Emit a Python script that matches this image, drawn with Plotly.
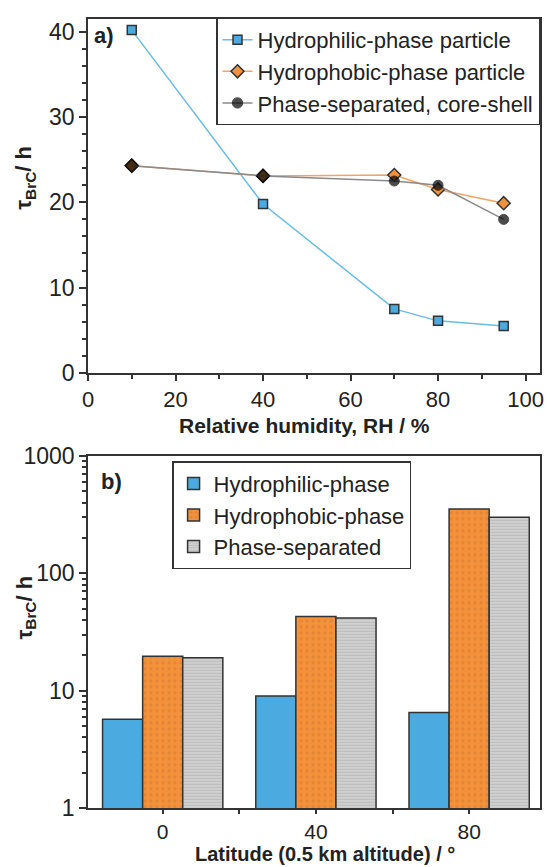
import plotly.graph_objects as go

# ---------------- data ----------------
# Panel a
rh_hydrophilic = [10, 40, 70, 80, 95]
tau_hydrophilic = [40.2, 19.8, 7.5, 6.1, 5.5]

rh_hydrophobic = [10, 40, 70, 80, 95]
tau_hydrophobic = [24.3, 23.1, 23.2, 21.5, 19.9]

# phase-separated listed from high RH to low RH (line is the same)
rh_phasesep = [95, 80, 70, 40, 10]
tau_phasesep = [18.0, 22.0, 22.5, 23.1, 24.3]

# Panel b
latitudes = [0, 40, 80]
bar_hydrophilic = [5.7, 9.0, 6.5]
bar_hydrophobic = [19.6, 42.8, 352]
bar_phasesep = [19.0, 41.5, 299]

legend_a = ["Hydrophilic-phase particle", "Hydrophobic-phase particle",
            "Phase-separated, core-shell"]
legend_b = ["Hydrophilic-phase", "Hydrophobic-phase", "Phase-separated"]

FONT = "Liberation Sans, Arial, sans-serif"
AX = "#333333"
BLUE = "#4BAAE0"
BLUE_LINE = "#69BCE8"
ORANGE = "#F4913A"
ORANGE_LINE = "#F5A262"
GREY_LINE = "#8A8A8A"

fig = go.Figure()

# ---- panel a ----
fig.add_trace(go.Scatter(
    x=rh_hydrophilic, y=tau_hydrophilic, mode="lines+markers",
    name=legend_a[0], legend="legend",
    line=dict(color=BLUE_LINE, width=1.5),
    marker=dict(symbol="square", size=9, color=BLUE,
                line=dict(color=AX, width=1.5)),
    xaxis="x", yaxis="y"))
fig.add_trace(go.Scatter(
    x=rh_hydrophobic, y=tau_hydrophobic, mode="lines+markers",
    name=legend_a[1], legend="legend",
    line=dict(color=ORANGE_LINE, width=1.5),
    marker=dict(symbol="diamond", size=10, color=ORANGE,
                line=dict(color=AX, width=1.5)),
    xaxis="x", yaxis="y"))
ps_symbols = ["circle", "circle", "circle", "diamond", "diamond"]
ps_sizes = [10, 10, 10, 11, 11]
fig.add_trace(go.Scatter(
    x=rh_phasesep, y=tau_phasesep, mode="lines+markers",
    name=legend_a[2], legend="legend",
    line=dict(color=GREY_LINE, width=1.5),
    marker=dict(symbol=ps_symbols, size=ps_sizes, color="black",
                line=dict(color="black", width=1)),
    xaxis="x", yaxis="y"))

# ---- panel b ----
fig.add_trace(go.Bar(
    x=latitudes, y=bar_hydrophilic, name=legend_b[0], legend="legend2",
    marker=dict(color=BLUE, line=dict(color=AX, width=1.5)),
    xaxis="x2", yaxis="y2"))
fig.add_trace(go.Bar(
    x=latitudes, y=bar_hydrophobic, name=legend_b[1], legend="legend2",
    marker=dict(color=ORANGE, line=dict(color=AX, width=1.5),
                pattern=dict(shape=".", fgcolor="#CF7A33", bgcolor=ORANGE,
                             size=6, solidity=0.25, fillmode="overlay")),
    xaxis="x2", yaxis="y2"))
fig.add_trace(go.Bar(
    x=latitudes, y=bar_phasesep, name=legend_b[2], legend="legend2",
    marker=dict(color="#CBCBCB", line=dict(color=AX, width=1.5),
                pattern=dict(shape="-", fgcolor="#A6A6A6", bgcolor="#D0D0D0",
                             size=3, solidity=0.35, fillmode="overlay")),
    xaxis="x2", yaxis="y2"))

tickfont = dict(family=FONT, size=23, color="#222")
common = dict(showline=True, linecolor=AX, linewidth=1.5, mirror=True,
              ticks="outside", ticklen=7, tickwidth=1.5, tickcolor=AX,
              showgrid=False, zeroline=False, tickfont=tickfont)
common_x = dict(common, ticklen=6, tickfont=dict(family=FONT, size=22, color="#222"))
common_x2 = dict(common, ticklen=4, tickfont=dict(family=FONT, size=21, color="#222"))

fig.update_layout(
    width=550, height=867,
    margin=dict(l=88, r=6, t=15, b=59),
    paper_bgcolor="white", plot_bgcolor="white",
    barmode="group", bargap=0.215, bargroupgap=0,
    font=dict(family=FONT, color="#222"),
    xaxis=dict(domain=[0, 1], anchor="y", range=[0, 103.3],
               tickvals=[0, 20, 40, 60, 80, 100],
               minor=dict(tickvals=[10, 30, 50, 70, 90], ticks="outside",
                          ticklen=4, tickwidth=1.5, tickcolor=AX),
               **common_x),
    yaxis=dict(domain=[0.5515, 1], anchor="x", range=[0, 41.5],
               tickvals=[0, 10, 20, 30, 40],
               minor=dict(dtick=2, ticks="outside", ticklen=4,
                          tickwidth=1.5, tickcolor=AX),
               **common),
    xaxis2=dict(domain=[0, 1], anchor="y2", range=[-19.5, 98.5],
                tickvals=[0, 40, 80],
                minor=dict(tickvals=[20, 60], ticks="outside", ticklen=4,
                           tickwidth=1.5, tickcolor=AX),
                **common_x2),
    yaxis2=dict(domain=[0, 0.4464], anchor="x2", type="log", range=[0, 3],
                tickvals=[1, 10, 100, 1000], ticktext=["1", "10", "100", "1000"],
                minor=dict(tickvals=[v * m for m in (1, 10, 100) for v in range(2, 10)],
                           ticks="outside", ticklen=4, tickwidth=1.5, tickcolor=AX),
                **common),
    legend=dict(x=1, y=1.002, xanchor="right", yanchor="top",
                bgcolor="white", bordercolor=AX, borderwidth=1.5,
                font=dict(family=FONT, size=22, color="#222"),
                tracegroupgap=0, itemwidth=30),
    legend2=dict(x=0.186, y=0.4397, xanchor="left", yanchor="top",
                 bgcolor="white", bordercolor=AX, borderwidth=1.5,
                 font=dict(family=FONT, size=22, color="#222"),
                 tracegroupgap=0),
)

fig.add_annotation(text="<b>Relative humidity, RH / %</b>", xref="paper", yref="paper",
                   x=(306 - 88) / 456, y=(867 - 59 - 424) / 793, xanchor="center", yanchor="middle",
                   showarrow=False, font=dict(family=FONT, size=21, color="#222"))
fig.add_annotation(text="<b>Latitude (0.5 km altitude) / °</b>", xref="paper", yref="paper",
                   x=(327 - 88) / 456, y=(867 - 59 - 854.5) / 793, xanchor="center", yanchor="middle",
                   showarrow=False, font=dict(family=FONT, size=20, color="#222"))
fig.add_annotation(text="<b>τ<sub>BrC</sub>/ h</b>", xref="paper", yref="paper",
                   x=(25 - 88) / 456, y=(808 - 175) / 793, xanchor="center", yanchor="middle",
                   textangle=-90, showarrow=False, font=dict(family=FONT, size=22, color="#222"))
fig.add_annotation(text="<b>τ<sub>BrC</sub>/ h</b>", xref="paper", yref="paper",
                   x=(25 - 88) / 456, y=(808 - 607) / 793, xanchor="center", yanchor="middle",
                   textangle=-90, showarrow=False, font=dict(family=FONT, size=22, color="#222"))
fig.add_annotation(text="<b>a)</b>", xref="paper", yref="paper",
                   x=(92 - 88) / 456, y=(808 - 32) / 793, xanchor="left", yanchor="middle",
                   showarrow=False, font=dict(family=FONT, size=22, color="#222"))
fig.add_annotation(text="<b>b)</b>", xref="paper", yref="paper",
                   x=(99 - 88) / 456, y=(808 - 480) / 793, xanchor="left", yanchor="middle",
                   showarrow=False, font=dict(family=FONT, size=22, color="#222"))

fig.write_html("out.html")
